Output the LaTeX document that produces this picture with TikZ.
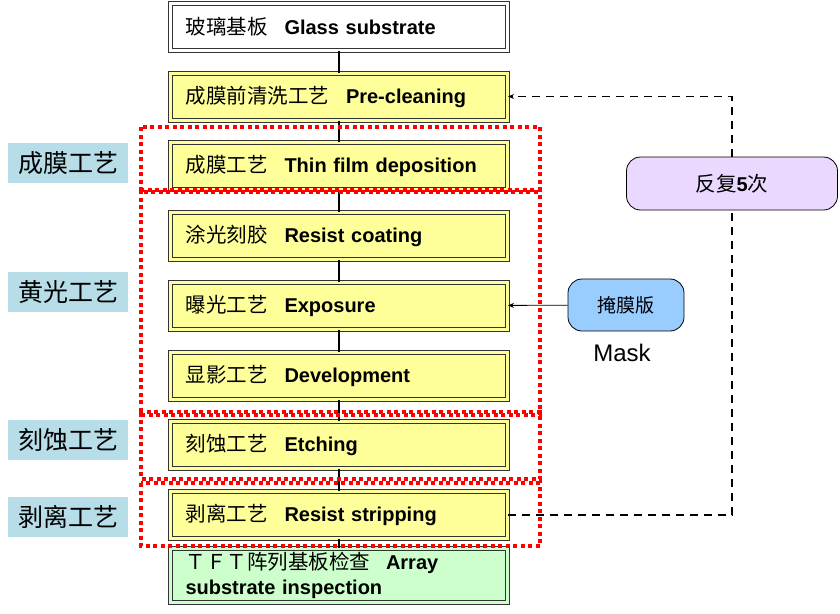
\documentclass[tikz,border=0pt]{standalone}
\usepackage{fontspec}
\setmainfont{Liberation Sans}
\newfontfamily\cjk{Noto Sans CJK SC}
\usetikzlibrary{arrows.meta,positioning}
\definecolor{stepyellow}{RGB}{255,255,153}
\definecolor{stepgreen}{RGB}{204,255,204}
\definecolor{lblblue}{RGB}{183,222,232}
\definecolor{maskblue}{RGB}{153,204,255}
\definecolor{loopviolet}{RGB}{234,216,255}
\newcommand{\zh}[1]{{\cjk\mdseries\fontsize{20.5}{25}\selectfont #1}}
\tikzset{
  stepbox/.style={fill=#1, draw=black!80, line width=1pt, double=#1, double distance=3pt,
    text width=307pt, align=left, inner xsep=15pt, minimum height=47pt,
    font=\bfseries\fontsize{20}{25}\selectfont},
  lblbox/.style={fill=lblblue, minimum width=120pt, minimum height=40pt,
    font=\cjk\fontsize{25}{25}\selectfont},
  roundbox/.style={fill=#1, draw=black, line width=0.8pt, rounded corners=14pt},
  groupln/.style={red, line width=4pt, dash pattern=on 4pt off 3.5pt},
  link/.style={line width=2pt},
  loopln/.style={line width=1.6pt, dash pattern=on 8pt off 6pt},
  maskarr/.style={-{Stealth[length=6pt,width=5pt]}, line width=0.8pt},
}

\begin{document}
\begin{tikzpicture}[x=1pt, y=-1pt]
    \useasboundingbox (0,0) rectangle (840,613);
    % process steps
    \node[stepbox=white] (glass) at (339,27) {\zh{玻璃基板}\hspace{17pt}Glass substrate};
    \node[stepbox=stepyellow] (preclean) at (339,96.5) {\zh{成膜前清洗工艺}\hspace{17pt}Pre-cleaning};
    \node[stepbox=stepyellow] (film) at (339,166) {\zh{成膜工艺}\hspace{17pt}Thin film deposition};
    \node[stepbox=stepyellow] (coat) at (339,236) {\zh{涂光刻胶}\hspace{17pt}Resist coating};
    \node[stepbox=stepyellow] (expo) at (339,306) {\zh{曝光工艺}\hspace{17pt}Exposure};
    \node[stepbox=stepyellow] (devel) at (339,376) {\zh{显影工艺}\hspace{17pt}Development};
    \node[stepbox=stepyellow] (etch) at (339,445) {\zh{刻蚀工艺}\hspace{17pt}Etching};
    \node[stepbox=stepyellow] (strip) at (339,515) {\zh{剥离工艺}\hspace{17pt}Resist stripping};
    \node[stepbox=stepgreen] (tft) at (339,575.5) {\zh{ＴＦＴ阵列基板检查}\hspace{16pt}Array\\substrate inspection};
    % flow line
    \foreach \a/\b in {glass/preclean, preclean/film, film/coat, coat/expo, expo/devel, devel/etch, etch/strip, strip/tft}
      \draw[link] (\a) -- (\b);
    % group labels
    \node[lblbox] (lblfilm) at (68,163) {成膜工艺};
    \node[lblbox] (lblphoto) at (68,292) {黄光工艺};
    \node[lblbox] (lbletch) at (68,440) {刻蚀工艺};
    \node[lblbox] (lblstrip) at (68,517) {剥离工艺};
    % red groups
    \draw[groupln] (141,127) rectangle (540,192);
    \draw[groupln] (141,190) rectangle (540,415);
    \draw[groupln] (141,412) rectangle (540,479);
    \draw[groupln] (141,483) rectangle (540,546);
    % mask
    \node[roundbox=maskblue, minimum width=116pt, minimum height=52pt,
      font=\cjk\fontsize{19}{19}\selectfont] (mask) at (626,305) {掩膜版};
    \node[font=\fontsize{24}{24}\selectfont] (masktxt) at (622,353) {Mask};
    \draw[maskarr] (mask) -- (expo);
    % repeat loop
    \node[roundbox=loopviolet, minimum width=211pt, minimum height=53pt] (repeat) at (732,183.5)
      {\zh{反复}\bfseries\fontsize{20}{20}\selectfont 5\zh{次}};
    \coordinate (loopbot) at (732,515);
    \draw[loopln] (strip) -- (loopbot) -- (repeat);
    \draw[loopln, -{Stealth[length=6pt,width=5pt]}] (repeat) |- (preclean);
\end{tikzpicture}
\end{document}
